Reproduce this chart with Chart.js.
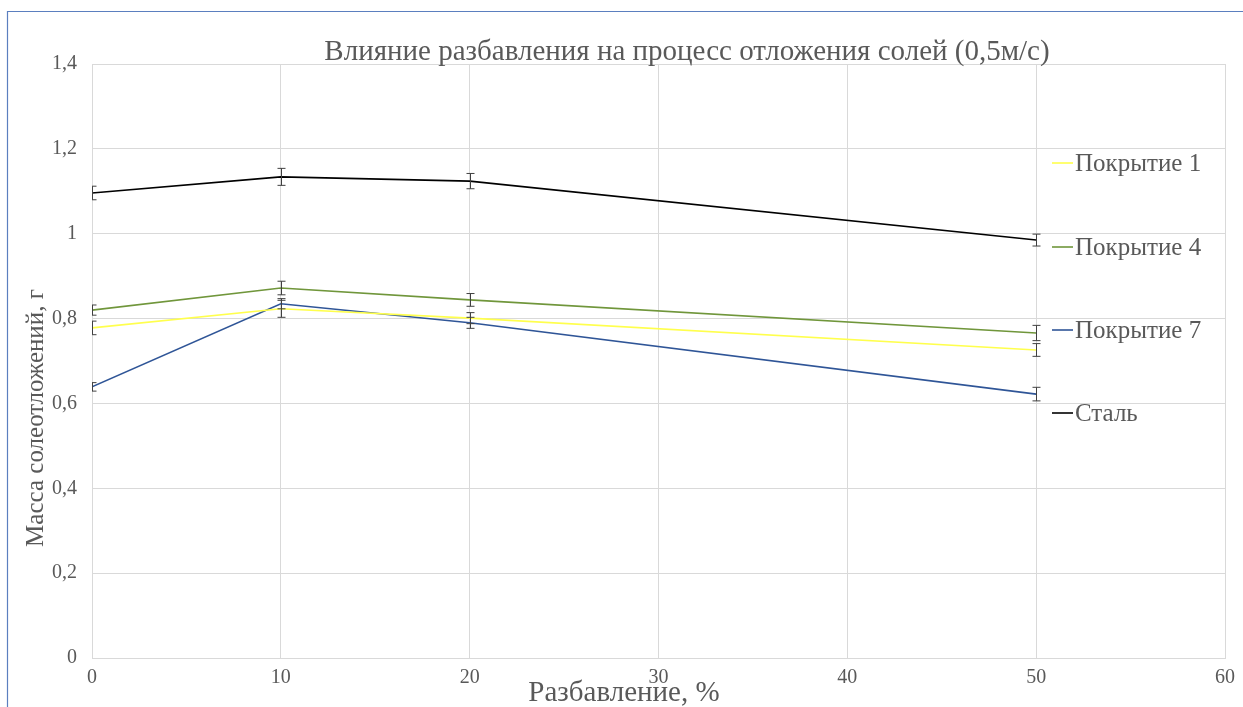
<!DOCTYPE html>
<html lang="ru">
<head>
<meta charset="utf-8">
<title>Влияние разбавления на процесс отложения солей</title>
<script src="https://cdn.jsdelivr.net/npm/chart.js@4/dist/chart.umd.min.js"></script>
<style>
  html, body { margin: 0; padding: 0; background: #ffffff; }
  #wrap { width: 1243px; height: 707px; position: relative; }
</style>
</head>
<body>
<div id="wrap"><canvas id="chart" width="1243" height="707"></canvas></div>
<script>
// Dilution, %
const dilution = [0, 10, 20, 50];

// Scale deposit mass, g
const coating1 = [0.778, 0.823, 0.801, 0.726];
const coating4 = [0.820, 0.872, 0.844, 0.766];
const coating7 = [0.639, 0.835, 0.790, 0.622];
const steel    = [1.096, 1.134, 1.124, 0.985];

// Half-width of the error bars, g
const coating1Err = [0.016, 0.020, 0.013, 0.015];
const coating4Err = [0.012, 0.016, 0.015, 0.018];
const coating7Err = [0.010, 0.012, 0.013, 0.016];
const steelErr    = [0.016, 0.020, 0.018, 0.014];

const seriesNames = ['Покрытие 1', 'Покрытие 4', 'Покрытие 7', 'Сталь'];
const chartTitle = 'Влияние разбавления на процесс отложения солей (0,5м/с)';
const xTitle = 'Разбавление, %';
const yTitle = 'Масса солеотложений, г';

const FONT = '"Liberation Serif", "Times New Roman", serif';
const TEXT = '#595959';

function points(values) {
  return dilution.map((x, i) => ({ x: x, y: values[i] }));
}

const datasets = [
  { label: seriesNames[0], data: points(coating1), err: coating1Err, borderColor: '#ffff4d' },
  { label: seriesNames[1], data: points(coating4), err: coating4Err, borderColor: '#70963b' },
  { label: seriesNames[2], data: points(coating7), err: coating7Err, borderColor: '#2f5597' },
  { label: seriesNames[3], data: points(steel),    err: steelErr,    borderColor: '#000000' }
].map(d => Object.assign(d, { borderWidth: 1.6, pointRadius: 0, tension: 0, fill: false }));

// Error bars, drawn through the scales and clipped to the plot area
const errorBars = {
  id: 'errorBars',
  afterDatasetsDraw(chart) {
    const { ctx, chartArea, scales } = chart;
    ctx.save();
    ctx.beginPath();
    ctx.rect(chartArea.left, chartArea.top, chartArea.right - chartArea.left, chartArea.bottom - chartArea.top);
    ctx.clip();
    ctx.strokeStyle = '#404040';
    ctx.lineWidth = 1;
    chart.data.datasets.forEach(ds => {
      ds.data.forEach((p, i) => {
        const px = Math.round(scales.x.getPixelForValue(p.x)) + 0.5;
        const yHi = scales.y.getPixelForValue(p.y + ds.err[i]);
        const yLo = scales.y.getPixelForValue(p.y - ds.err[i]);
        const cap = 4;
        ctx.beginPath();
        ctx.moveTo(px, yHi); ctx.lineTo(px, yLo);
        ctx.moveTo(px - cap, yHi); ctx.lineTo(px + cap, yHi);
        ctx.moveTo(px - cap, yLo); ctx.lineTo(px + cap, yLo);
        ctx.stroke();
      });
    });
    ctx.restore();
  }
};

// Frame, title, axis titles and legend
const decorations = {
  id: 'decorations',
  beforeDraw(chart) {
    const ctx = chart.ctx;
    ctx.save();
    ctx.fillStyle = '#ffffff';
    ctx.fillRect(0, 0, chart.width, chart.height);
    ctx.strokeStyle = '#5b7fbf';
    ctx.lineWidth = 1.2;
    ctx.beginPath();
    ctx.moveTo(7.5, chart.height + 2);
    ctx.lineTo(7.5, 11.5);
    ctx.lineTo(chart.width + 2, 11.5);
    ctx.stroke();
    ctx.restore();
  },
  afterDraw(chart) {
    const { ctx } = chart;
    ctx.save();
    ctx.fillStyle = TEXT;
    ctx.textAlign = 'center';
    ctx.textBaseline = 'middle';

    ctx.font = '29px ' + FONT;
    ctx.fillText(chartTitle, 687, 52);

    ctx.font = '29px ' + FONT;
    ctx.fillText(xTitle, 624, 693);

    ctx.save();
    ctx.translate(36, 418);
    ctx.rotate(-Math.PI / 2);
    ctx.font = '25px ' + FONT;
    ctx.fillText(yTitle, 0, 0);
    ctx.restore();

    // legend
    const legendY = [163, 247, 330, 413];
    ctx.textAlign = 'left';
    ctx.font = '25px ' + FONT;
    chart.data.datasets.forEach((ds, i) => {
      const y = legendY[i];
      ctx.strokeStyle = ds.borderColor;
      ctx.lineWidth = 1.6;
      ctx.beginPath();
      ctx.moveTo(1052, y);
      ctx.lineTo(1073, y);
      ctx.stroke();
      ctx.fillStyle = TEXT;
      ctx.fillText(ds.label, 1075, y + 1);
    });
    ctx.restore();
  }
};

const fmt = v => String(Math.round(v * 10) / 10).replace('.', ',');

new Chart(document.getElementById('chart'), {
  type: 'line',
  data: { datasets: datasets },
  options: {
    responsive: false,
    animation: false,
    devicePixelRatio: 1,
    layout: { padding: { left: 0, top: 64, right: 15, bottom: 0 } },
    plugins: {
      legend: { display: false },
      title: { display: false },
      tooltip: { enabled: false }
    },
    scales: {
      x: {
        type: 'linear',
        min: 0, max: 60,
        afterFit(s) { s.height = 49; },
        ticks: { stepSize: 10, color: TEXT, font: { family: FONT, size: 20 }, padding: 8 },
        grid: { color: '#d9d9d9', drawTicks: false },
        border: { color: '#d9d9d9' }
      },
      y: {
        type: 'linear',
        min: 0, max: 1.4,
        afterFit(s) { s.width = 92; },
        ticks: { stepSize: 0.2, color: TEXT, font: { family: FONT, size: 20 }, padding: 15, callback: v => fmt(v) },
        grid: { color: '#d9d9d9', drawTicks: false },
        border: { color: '#d9d9d9' }
      }
    }
  },
  plugins: [decorations, errorBars]
});
</script>
</body>
</html>
